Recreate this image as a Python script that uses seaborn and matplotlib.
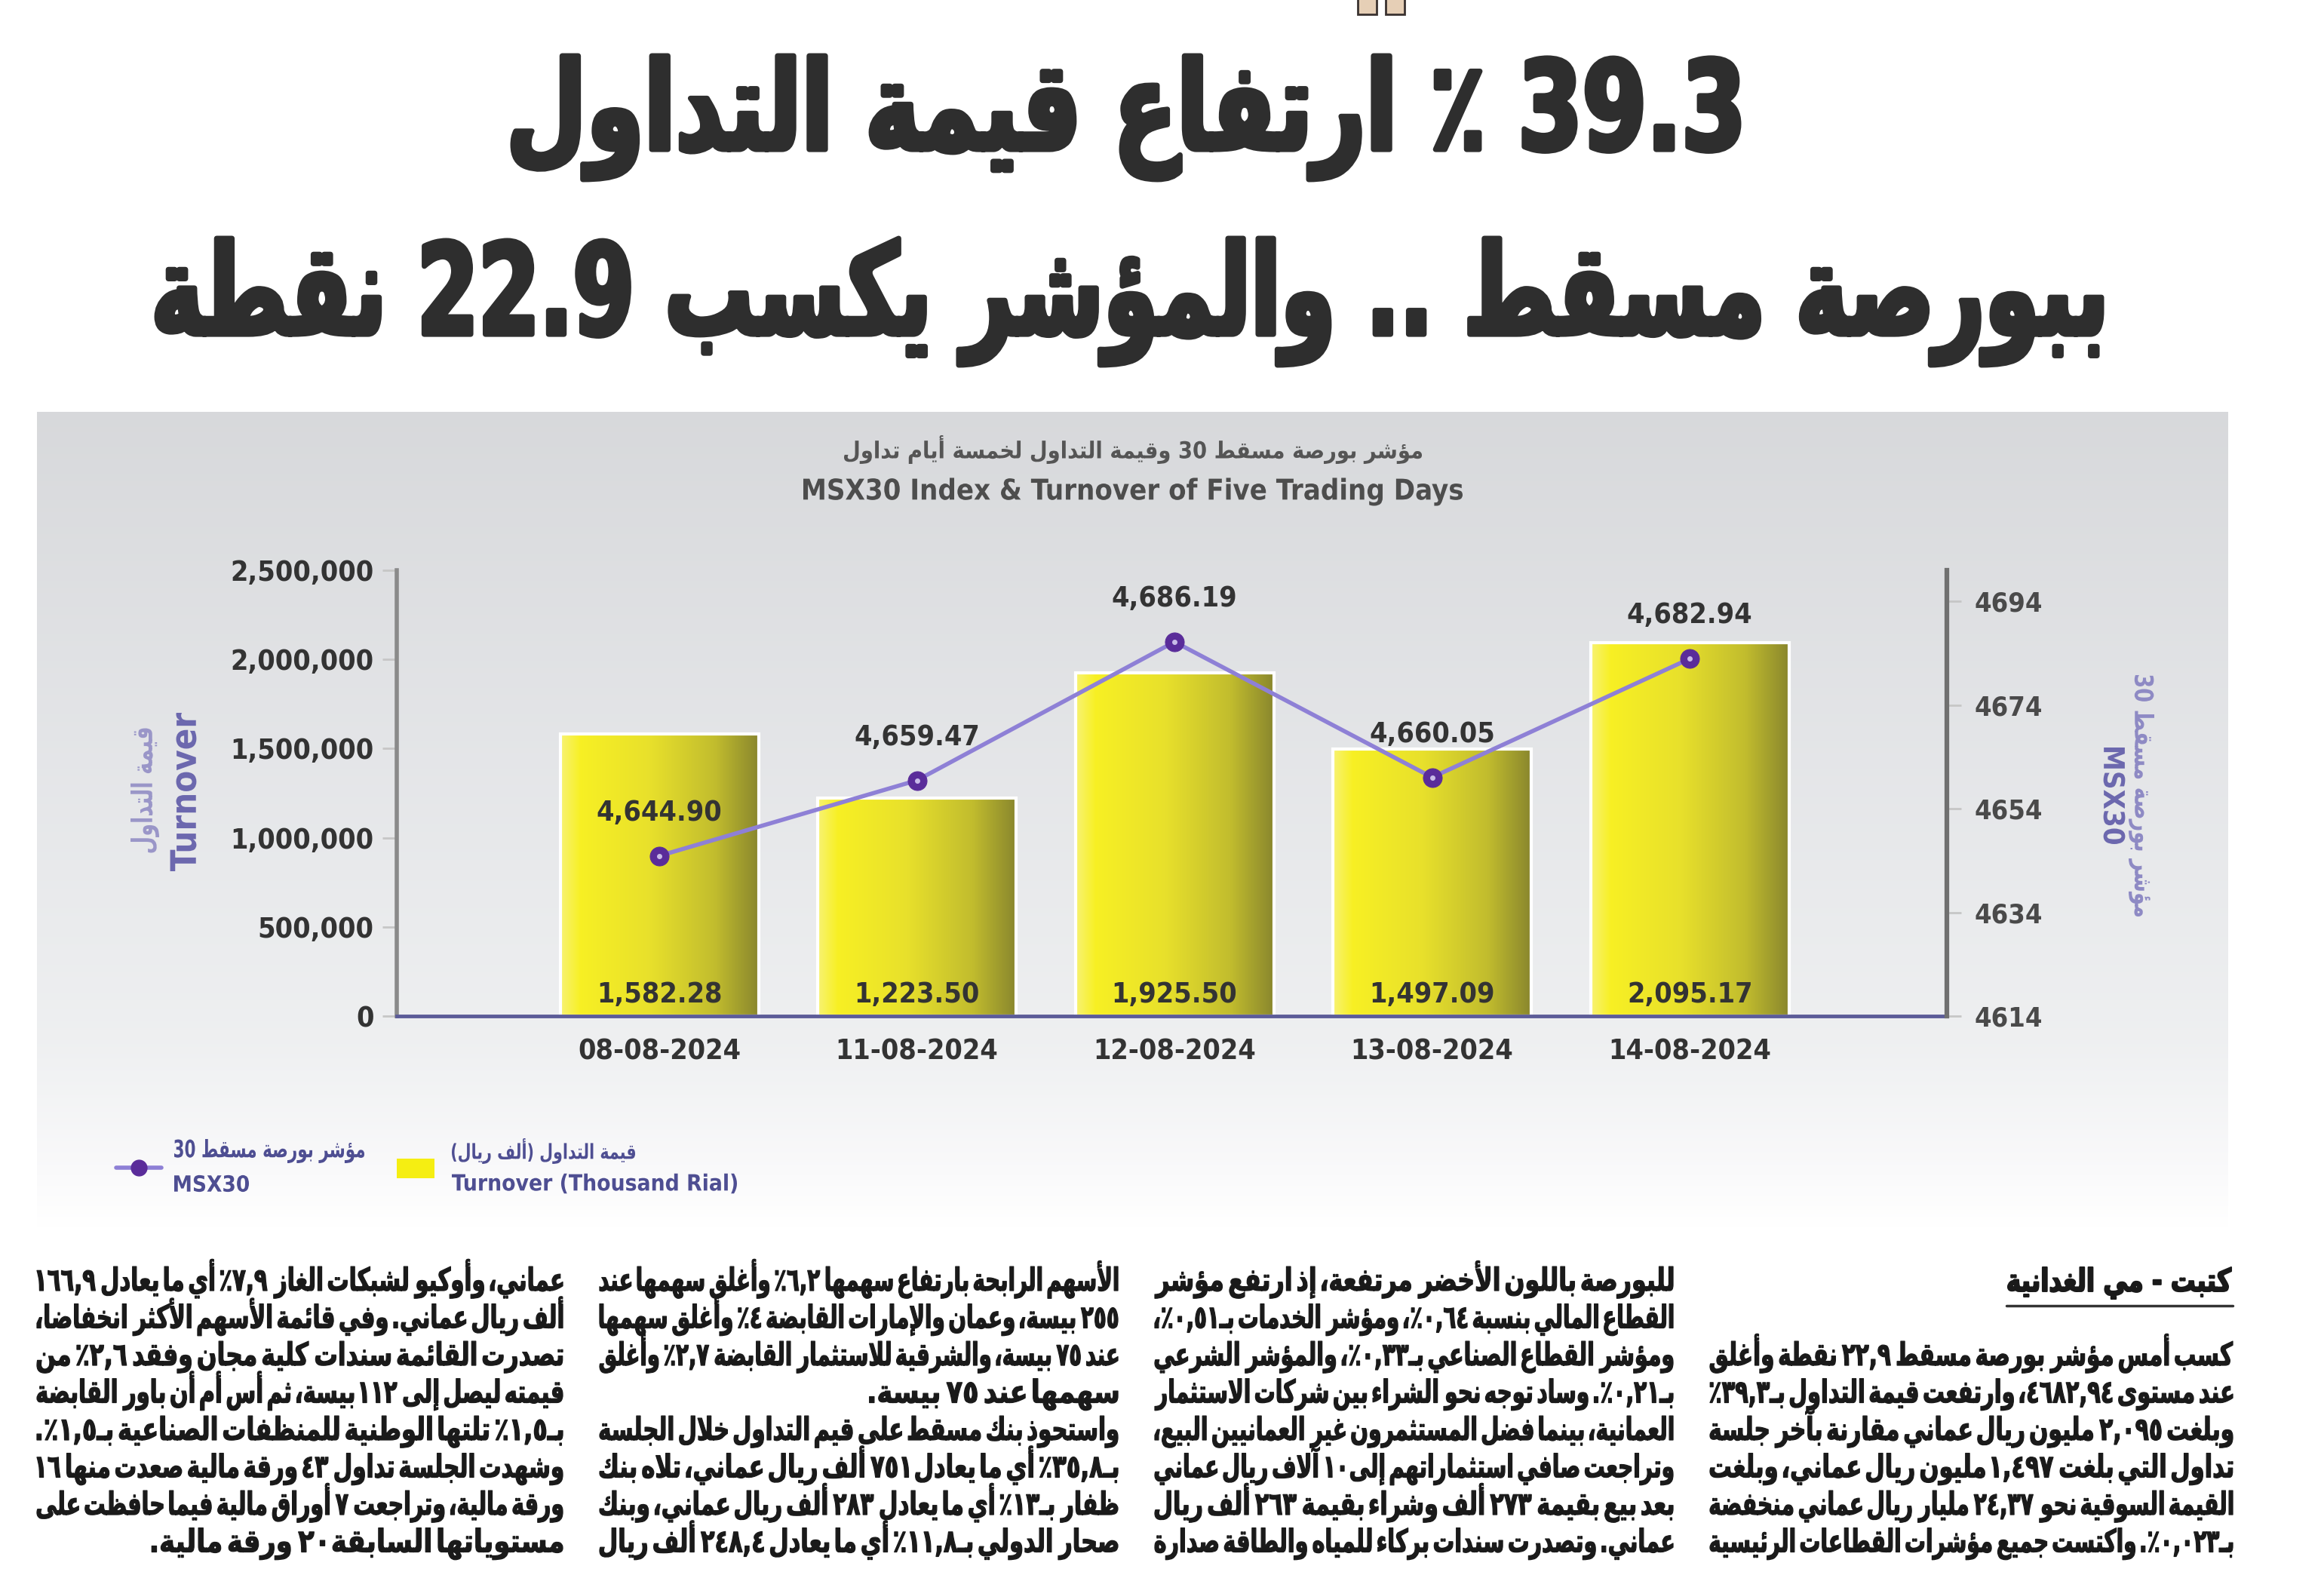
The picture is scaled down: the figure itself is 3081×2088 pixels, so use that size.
import re
import numpy as np
import pandas as pd
import matplotlib
matplotlib.use("Agg")
import matplotlib.pyplot as plt
import seaborn as sns
from matplotlib import font_manager as fm
from matplotlib.textpath import TextPath
from matplotlib.patches import PathPatch, Rectangle
from matplotlib.lines import Line2D
from matplotlib.transforms import Affine2D
from matplotlib.ticker import FuncFormatter, FixedLocator

# ==================================================
# DATA
# ==================================================

DATES = ["08-08-2024", "11-08-2024", "12-08-2024", "13-08-2024", "14-08-2024"]
TURNOVER_K = [1582.28, 1223.50, 1925.50, 1497.09, 2095.17]   # thousand rial
MSX30 = [4644.90, 4659.47, 4686.19, 4660.05, 4682.94]

LEFT_TICKS = [0, 500000, 1000000, 1500000, 2000000, 2500000]
RIGHT_TICKS = [4614, 4634, 4654, 4674, 4694]
LEFT_LIM = (0, 2500000)
RIGHT_LIM = (4614, 4700)

HEADLINE_1 = "39.3 ٪ ارتفاع قيمة التداول"
HEADLINE_2 = "ببورصة مسقط .. والمؤشر يكسب 22.9 نقطة"

CHART_TITLE_AR = "مؤشر بورصة مسقط 30 وقيمة التداول لخمسة أيام تداول"
CHART_TITLE_EN = "MSX30 Index & Turnover of Five Trading Days"
LEFT_LABEL_AR = "قيمة التداول"
LEFT_LABEL_EN = "Turnover"
RIGHT_LABEL_AR = "مؤشر بورصة مسقط 30"
RIGHT_LABEL_EN = "MSX30"
LEGEND_LINE_AR = "مؤشر بورصة مسقط 30"
LEGEND_LINE_EN = "MSX30"
LEGEND_BAR_AR = "قيمة التداول (ألف ريال)"
LEGEND_BAR_EN = "Turnover (Thousand Rial)"

BYLINE = "كتبت - مي الغدانية"

COL_1 = [
    "كسب أمس مؤشر بورصة مسقط ٢٢,٩ نقطة وأغلق",
    "عند مستوى ٤٦٨٢,٩٤، وارتفعت قيمة التداول بـ٣٩,٣٪",
    "وبلغت ٢,٠٩٥ مليون ريال عماني مقارنة بآخر جلسة",
    "تداول التي بلغت ١,٤٩٧ مليون ريال عماني، وبلغت",
    "القيمة السوقية نحو ٢٤,٣٧ مليار ريال عماني منخفضة",
    "بـ٠,٠٢٣٪. واكتست جميع مؤشرات القطاعات الرئيسية",
]
COL_2 = [
    "للبورصة باللون الأخضر مرتفعة، إذ ارتفع مؤشر",
    "القطاع المالي بنسبة ٠,٦٤٪، ومؤشر الخدمات بـ٠,٥١٪،",
    "ومؤشر القطاع الصناعي بـ٠,٣٣٪، والمؤشر الشرعي",
    "بـ٠,٢١٪. وساد توجه نحو الشراء بين شركات الاستثمار",
    "العمانية، بينما فضل المستثمرون غير العمانيين البيع،",
    "وتراجعت صافي استثماراتهم إلى ١٠ آلاف ريال عماني",
    "بعد بيع بقيمة ٢٧٣ ألف وشراء بقيمة ٢٦٣ ألف ريال",
    "عماني. وتصدرت سندات بركاء للمياه والطاقة صدارة",
]
COL_3 = [
    "الأسهم الرابحة بارتفاع سهمها ٦,٢٪ وأغلق سهمها عند",
    "٢٥٥ بيسة، وعمان والإمارات القابضة ٤٪ وأغلق سهمها",
    "عند ٧٥ بيسة، والشرقية للاستثمار القابضة ٢,٧٪ وأغلق",
    "سهمها عند ٧٥ بيسة.",
    "واستحوذ بنك مسقط على قيم التداول خلال الجلسة",
    "بـ٣٥,٨٪ أي ما يعادل ٧٥١ ألف ريال عماني، تلاه بنك",
    "ظفار بـ١٣٪ أي ما يعادل ٢٨٣ ألف ريال عماني، وبنك",
    "صحار الدولي بـ١١,٨٪ أي ما يعادل ٢٤٨,٤ ألف ريال",
]
COL_4 = [
    "عماني، وأوكيو لشبكات الغاز ٧,٩٪ أي ما يعادل ١٦٦,٩",
    "ألف ريال عماني. وفي قائمة الأسهم الأكثر انخفاضًا،",
    "تصدرت القائمة سندات كلية مجان وفقد ٢,٦٪ من",
    "قيمته ليصل إلى ١١٢ بيسة، ثم أس أم أن باور القابضة",
    "بـ١,٥٪ تلتها الوطنية للمنظفات الصناعية بـ١,٥٪.",
    "وشهدت الجلسة تداول ٤٣ ورقة مالية صعدت منها ١٦",
    "ورقة مالية، وتراجعت ٧ أوراق مالية فيما حافظت على",
    "مستوياتها السابقة ٢٠ ورقة مالية.",
]
# last lines of paragraphs (not justified)
PARA_ENDS = {(2, 3), (3, 4), (3, 7)}

# ==================================================
# CONFIG
# ==================================================

W, H = 3081, 2088

BAR_YELLOW = "#F2EA22"
LINE_COLOR = "#8E80D6"
MARKER_COLOR = "#5A2C9A"
TEXT_DARK = "#333333"
LABEL_PURPLE = "#6C68AE"
LEGEND_NAVY = "#4E4E92"

names = {f.name for f in fm.fontManager.ttflist}
if "Liberation Sans Narrow" in names:
    NARROW = "Liberation Sans Narrow"
    STRETCH = "normal"
    NUM_SIZE = 33
else:
    NARROW = "DejaVu Sans"
    STRETCH = "condensed"
    NUM_SIZE = 27
print("numbers font:", NARROW, fm.findfont(fm.FontProperties(family=NARROW, weight="bold", stretch=STRETCH)))

FP_AR = fm.FontProperties(family="DejaVu Sans", weight="bold")
FP_EN = fm.FontProperties(family=NARROW, weight="bold", stretch=STRETCH)

# ==================================================
# ARABIC SHAPING (presentation forms + visual order)
# ==================================================

AR_LETTERS = "ءآأؤإئابةتثجحخدذرزسشصضطظعغفقكلمنهوىي"
AR_COUNTS = [1, 2, 2, 2, 2, 4, 2, 4, 2] + [4] * 5 + [2] * 4 + [4] * 8 + [4] * 7 + [2, 2, 4]
FORMS = {}
code = 0xFE80
for ch, n in zip(AR_LETTERS, AR_COUNTS):
    FORMS[ch] = [code + i for i in range(n)]
    code += n
LAM_ALEF = {"آ": 0xFEF5, "أ": 0xFEF7, "إ": 0xFEF9, "ا": 0xFEFB}
NUM_RUN = re.compile(r"[0-9\u0660-\u0669]+(?:[.,\u066B\u066C][0-9\u0660-\u0669]+)*")
MIRROR = {"(": ")", ")": "("}


def shape(text):
    chars = [c for c in text if not ("\u064B" <= c <= "\u0652")]
    items = []
    i = 0
    while i < len(chars):
        if chars[i] == "ل" and i + 1 < len(chars) and chars[i + 1] in LAM_ALEF:
            items.append(("LA", chars[i + 1]))
            i += 2
        else:
            items.append((chars[i], None))
            i += 1

    def dual(it):
        return it[0] == "ـ" or (it[0] in FORMS and len(FORMS[it[0]]) == 4)

    def joins(it):
        return it[0] in ("ـ", "LA") or (it[0] in FORMS and len(FORMS[it[0]]) > 1)

    out = []
    for k, it in enumerate(items):
        prev = items[k - 1] if k > 0 else None
        nxt = items[k + 1] if k + 1 < len(items) else None
        jp = prev is not None and dual(prev) and joins(it)
        if it[0] == "LA":
            out.append(chr(LAM_ALEF[it[1]] + (1 if jp else 0)))
            continue
        if it[0] not in FORMS:
            out.append(it[0])
            continue
        f = FORMS[it[0]]
        jn = len(f) == 4 and nxt is not None and joins(nxt)
        if jp and jn:
            out.append(chr(f[3]))
        elif jp:
            out.append(chr(f[1]))
        elif jn:
            out.append(chr(f[2]))
        else:
            out.append(chr(f[0]))
    return "".join(out)


def visual(text):
    s = shape(text)
    parts = []
    pos = 0
    for m in NUM_RUN.finditer(s):
        parts.extend(MIRROR.get(c, c) for c in s[pos:m.start()])
        parts.append(m.group())
        pos = m.end()
    parts.extend(MIRROR.get(c, c) for c in s[pos:])
    return "".join(reversed(parts))


def text_path(s, size=100, rtl=True, fp=None):
    fp = fp or (FP_AR if rtl else FP_EN)
    return TextPath((0, 0), visual(s) if rtl else s, size=size, prop=fp)


def put_path(ax, path, x, y, color, ha="center", va="center",
             width=None, height=None, uniform=False, rot=0, zorder=3, lw=0):
    # x, y in picture pixels measured from the top-left corner
    e = path.get_extents()
    kx = width / e.width if width else 1.0
    if height:
        ky = height / e.height
    else:
        ky = kx if uniform else 1.0
    w, h = e.width * kx, e.height * ky
    dx = {"left": 0, "center": -w / 2, "right": -w}[ha]
    dy = {"bottom": 0, "center": -h / 2, "top": -h}[va]
    tr = (Affine2D().translate(-e.x0, -e.y0).scale(kx, ky)
          .translate(dx, dy).rotate_deg(rot).translate(x, H - y))
    ax.add_patch(PathPatch(path, transform=tr + ax.transData, fc=color,
                           ec=color, lw=lw, joinstyle="round", zorder=zorder))


def draw_line(ax, line, right, width, baseline, size, xscale, justify=True,
              color="#1A1A1A", lw=0.9):
    words = line.split()
    paths = [text_path(wd, size) for wd in words]
    exts = [p.get_extents() for p in paths]
    widths = [e.width for e in exts]
    space = 0.3 * size
    need = sum(widths) + space * (len(words) - 1)
    k = min(xscale, width / need)
    if justify and len(words) > 1 and need * k < width:
        gap = (width - sum(widths) * k) / (len(words) - 1)
    else:
        gap = space * k
    x = right
    for p, e, wd in zip(paths, exts, widths):
        left = x - wd * k
        tr = Affine2D().translate(-e.x0, 0).scale(k, 1).translate(left, H - baseline)
        ax.add_patch(PathPatch(p, transform=tr + ax.transData, fc=color, ec=color,
                               lw=lw, joinstyle="round", zorder=3))
        x = left - gap


# ==================================================
# FIGURE
# ==================================================

sns.set_style("white")
plt.rcParams["font.family"] = [NARROW, "DejaVu Sans"]
plt.rcParams["font.weight"] = "bold"
plt.rcParams["font.stretch"] = STRETCH

fig = plt.figure(figsize=(W / 100, H / 100), dpi=100, facecolor="white")

page = fig.add_axes([0, 0, 1, 1], zorder=0)
page.set_xlim(0, W)
page.set_ylim(0, H)
page.set_autoscale_on(False)
page.axis("off")

# panel background (vertical fade)
stops_y = [546, 1000, 1380, 1540, 1629]
stops_c = np.array([[0.845, 0.85, 0.86], [0.895, 0.90, 0.91],
                    [0.935, 0.94, 0.945], [0.975, 0.975, 0.98], [1, 1, 1]])
rows = np.linspace(546, 1629, 300)
bg = np.stack([np.interp(rows, stops_y, stops_c[:, j]) for j in range(3)], axis=1)
page.imshow(bg[:, None, :], extent=[49, 2954, H - 1629, H - 546],
            aspect="auto", interpolation="bilinear", zorder=0)

# small tan marks at the top
for x0 in (1800, 1837):
    page.add_patch(Rectangle((x0, H - 19), 25, 22, fc="#E6CFB6", ec="#3A3230", lw=2, zorder=1))

# headline
put_path(page, text_path(HEADLINE_1), 680, 74, "#2E2E2E", ha="left", va="top",
         width=2305 - 680, height=238 - 74, lw=5)
put_path(page, text_path(HEADLINE_2), 208, 316, "#2E2E2E", ha="left", va="top",
         width=2786 - 208, height=484 - 316, lw=5)

# chart titles
put_path(page, text_path(CHART_TITLE_AR), 1502, 596, "#555555", width=766, height=38)
put_path(page, text_path(CHART_TITLE_EN, rtl=False), 1502, 652, "#4D4D4D",
         width=874, uniform=True)

# axis titles
put_path(page, text_path(LEFT_LABEL_AR), 192, 1048, "#9A96C8", width=165, height=38, rot=90)
put_path(page, text_path(LEFT_LABEL_EN, rtl=False), 243, 1050, LABEL_PURPLE,
         width=210, uniform=True, rot=90)
put_path(page, text_path(RIGHT_LABEL_EN, rtl=False), 2803, 1055, LABEL_PURPLE,
         width=128, uniform=True, rot=-90)
put_path(page, text_path(RIGHT_LABEL_AR), 2839, 1055, "#8E8AC4", width=320, height=34, rot=-90)

# legend
page.add_line(Line2D([154, 214], [H - 1548, H - 1548], color=LINE_COLOR, lw=4, zorder=3))
page.plot([184], [H - 1548], "o", ms=15, mfc=MARKER_COLOR, mec=MARKER_COLOR, zorder=4)
page.add_patch(Rectangle((526, H - 1562), 50, 26, fc="#F5EE12", ec="none", zorder=3))
put_path(page, text_path(LEGEND_LINE_AR), 231, 1526, LEGEND_NAVY, ha="left", width=252, height=32)
put_path(page, text_path(LEGEND_LINE_EN, rtl=False), 231, 1569, LEGEND_NAVY, ha="left",
         width=99, uniform=True)
put_path(page, text_path(LEGEND_BAR_AR), 599, 1526, LEGEND_NAVY, ha="left", width=243, height=34)
put_path(page, text_path(LEGEND_BAR_EN, rtl=False), 599, 1569, LEGEND_NAVY, ha="left",
         width=378, uniform=True)

# ==================================================
# CHART
# ==================================================

df = pd.DataFrame({
    "date": DATES,
    "turnover": [v * 1000 for v in TURNOVER_K],
    "msx30": MSX30,
})

ax = fig.add_axes([526 / W, 1 - 1347 / H, (2581 - 526) / W, (1347 - 756) / H], zorder=2)
ax.patch.set_alpha(0)

sns.barplot(data=df, x="date", y="turnover", ax=ax, color=BAR_YELLOW,
            width=0.77, saturation=1, edgecolor="white", linewidth=3)

# horizontal shading inside the bars
g_pos = [0.0, 0.1, 0.45, 0.78, 1.0]
g_col = np.array([[0.97, 0.95, 0.45], [0.97, 0.94, 0.14], [0.91, 0.88, 0.17],
                  [0.76, 0.74, 0.18], [0.54, 0.53, 0.18]])
gx = np.linspace(0, 1, 200)
grad = np.stack([np.interp(gx, g_pos, g_col[:, j]) for j in range(3)], axis=1)[None, :, :]
for patch in ax.patches:
    x0, w, h = patch.get_x(), patch.get_width(), patch.get_height()
    im = ax.imshow(grad, extent=[x0, x0 + w, 0, h], aspect="auto",
                   interpolation="bilinear", zorder=1.5)
    im.set_clip_path(patch)
    patch.set_facecolor("none")
    patch.set_zorder(1.6)

ax.set_xlim(-1.019, 4.998)
ax.set_ylim(*LEFT_LIM)
ax.yaxis.set_major_locator(FixedLocator(LEFT_TICKS))
ax.yaxis.set_major_formatter(FuncFormatter(lambda v, p: f"{int(v):,}"))
ax.set_xlabel("")
ax.set_ylabel("")

for side in ["top", "right"]:
    ax.spines[side].set_visible(False)
ax.spines["left"].set_color("#8A8A8A")
ax.spines["left"].set_linewidth(4)
ax.spines["bottom"].set_color("#5C5C98")
ax.spines["bottom"].set_linewidth(3.5)
ax.spines["bottom"].set_zorder(5)

ax.tick_params(axis="y", length=14, width=2, color="#C6C6C6", pad=8,
               labelsize=NUM_SIZE, labelcolor=TEXT_DARK)
ax.tick_params(axis="x", length=8, width=1.5, color="#CFCFCF", pad=13,
               labelsize=NUM_SIZE, labelcolor=TEXT_DARK)

for i, v in enumerate(TURNOVER_K):
    ax.annotate(f"{v:,.2f}", xy=(i, 0), xytext=(0, 20), textcoords="offset points",
                ha="center", va="center", fontsize=NUM_SIZE, color=TEXT_DARK, zorder=6)

# index line
ax2 = ax.twinx()
ax2.set_zorder(3)
ax2.patch.set_alpha(0)
sns.lineplot(data=df, x=np.arange(len(DATES)), y="msx30", ax=ax2, color=LINE_COLOR,
             lw=4, marker="o", markersize=18, markerfacecolor=MARKER_COLOR,
             markeredgecolor=MARKER_COLOR)
ax2.plot(np.arange(len(DATES)), MSX30, "o", ms=4, color="#C9BCE8", zorder=5)

ax2.set_ylim(*RIGHT_LIM)
ax2.yaxis.set_major_locator(FixedLocator(RIGHT_TICKS))
ax2.set_ylabel("")
ax2.set_xlabel("")
for side in ["top", "left", "bottom"]:
    ax2.spines[side].set_visible(False)
ax2.spines["right"].set_color("#707070")
ax2.spines["right"].set_linewidth(4.5)
ax2.tick_params(axis="y", length=14, width=2, color="#C6C6C6", pad=12,
                labelsize=NUM_SIZE - 1, labelcolor="#4A4A4A")

for i, m in enumerate(MSX30):
    ax2.annotate(f"{m:,.2f}", xy=(i, m), xytext=(0, 41), textcoords="offset points",
                 ha="center", va="center", fontsize=NUM_SIZE, color=TEXT_DARK)

ax.set_xlim(-1.019, 4.998)

# ==================================================
# ARTICLE TEXT
# ==================================================

BODY_SIZE = 42
BODY_XSCALE = 0.84
LINE_Y = [1700 + 49.5 * i for i in range(8)]
COL_RIGHT = [2960, 2218, 1482, 746]
COL_WIDTH = [693, 687, 687, 697]
COLUMNS = [COL_1, COL_2, COL_3, COL_4]
FIRST_ROW = [2, 0, 0, 0]

put_path(page, text_path(BYLINE), 2958, 1722, "#1A1A1A", ha="right", va="bottom",
         width=296, height=42, lw=1.5)
page.add_line(Line2D([2660, 2960], [H - 1731, H - 1731], color="#333333", lw=2.5))

for c, lines in enumerate(COLUMNS):
    for r, line in enumerate(lines):
        row = FIRST_ROW[c] + r
        draw_line(page, line, COL_RIGHT[c], COL_WIDTH[c], LINE_Y[row] + 11, BODY_SIZE,
                  BODY_XSCALE, justify=(c, r) not in PARA_ENDS)

fig.savefig("out.png", dpi=100, facecolor="white")
